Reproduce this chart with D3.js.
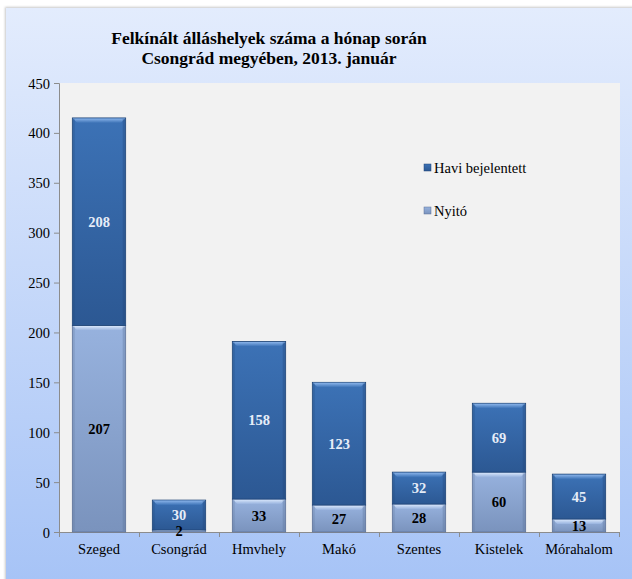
<!DOCTYPE html>
<html>
<head>
<meta charset="utf-8">
<script src="https://cdn.jsdelivr.net/npm/d3@7"></script>
<style>
  body { margin: 0; background: #fff; }
  svg { display: block; }
</style>
</head>
<body>
<div id="chart"></div>
<script>
var categories = ['Szeged', 'Csongrád', 'Hmvhely', 'Makó', 'Szentes', 'Kistelek', 'Mórahalom'];
var nyito = [207, 2, 33, 27, 28, 60, 13];
var havi = [208, 30, 158, 123, 32, 69, 45];
var seriesNames = ['Nyitó', 'Havi bejelentett'];
var yTicks = [0, 50, 100, 150, 200, 250, 300, 350, 400, 450];
var titleLines = ['Felkínált álláshelyek száma a hónap során', 'Csongrád megyében, 2013. január'];

var W = 632, H = 579;
var FONT = "'Liberation Serif', 'Times New Roman', serif";
var plot = {left: 59, right: 619, top: 83, bottom: 532};

var svg = d3.select('#chart').append('svg').attr('width', W).attr('height', H);
var defs = svg.append('defs');

// background gradient of the chart panel
var bg = defs.append('linearGradient').attr('id', 'bg').attr('x1', 0).attr('y1', 0).attr('x2', 0).attr('y2', 1);
bg.append('stop').attr('offset', '0%').attr('stop-color', '#e3ecfd');
bg.append('stop').attr('offset', '100%').attr('stop-color', '#a6c3f6');

var shadow = defs.append('filter').attr('id', 'shadow').attr('x', -0.1).attr('y', -0.1).attr('width', 1.2).attr('height', 1.2);
shadow.append('feGaussianBlur').attr('stdDeviation', 1.2);

// fill gradients per series
var colors = [
  {top: '#97b2de', bottom: '#7a93bd', hi: '#d8e6fb', edge: '#5d7298'},
  {top: '#3c72b6', bottom: '#2c5893', hi: '#8ab4ea', edge: '#214677'}
];
colors.forEach(function(c, i) {
  var g = defs.append('linearGradient').attr('id', 'fill' + i).attr('x1', 0).attr('y1', 0).attr('x2', 0).attr('y2', 1);
  g.append('stop').attr('offset', '0%').attr('stop-color', c.top);
  g.append('stop').attr('offset', '100%').attr('stop-color', c.bottom);
  var h = defs.append('linearGradient').attr('id', 'hi' + i).attr('x1', 0).attr('y1', 0).attr('x2', 0).attr('y2', 1);
  h.append('stop').attr('offset', '0%').attr('stop-color', c.hi);
  h.append('stop').attr('offset', '100%').attr('stop-color', c.top);
});

// panel
svg.append('rect').attr('x', 5).attr('y', 7).attr('width', W).attr('height', H)
  .attr('fill', '#c8c8c8').attr('filter', 'url(#shadow)');
svg.append('rect').attr('x', 6).attr('y', 8).attr('width', W).attr('height', H).attr('fill', 'url(#bg)');

// plot area
svg.append('rect').attr('x', plot.left).attr('y', plot.top)
  .attr('width', plot.right - plot.left + 1).attr('height', plot.bottom - plot.top)
  .attr('fill', '#f2f2f2');

var x = d3.scaleBand().domain(categories).range([plot.left, plot.right]).paddingInner(1 / 3).paddingOuter(1 / 6);
var y = d3.scaleLinear().domain([0, 450]).range([plot.bottom, plot.top]);

// title
svg.append('g').selectAll('text').data(titleLines).enter().append('text')
  .attr('x', 269).attr('y', function(d, i) { return 44 + i * 19.5; })
  .attr('text-anchor', 'middle').style('font-size', '17.5px').style('font-weight', 'bold')
  .attr('fill', '#000').text(function(d) { return d; });

// axes
var yAxis = svg.append('g').attr('transform', 'translate(' + plot.left + ',0)')
  .call(d3.axisLeft(y).tickValues(yTicks).tickSize(5).tickPadding(4));
var xAxis = svg.append('g').attr('transform', 'translate(0,' + plot.bottom + ')')
  .call(d3.axisBottom(d3.scaleLinear().domain([0, 7]).range([plot.left, plot.right]))
    .tickValues(d3.range(8)).tickSize(5).tickFormat(''));
[yAxis, xAxis].forEach(function(a) {
  a.select('.domain').attr('stroke', '#8c8c8c');
  a.selectAll('.tick line').attr('stroke', '#8c8c8c');
  a.selectAll('text').attr('fill', '#000').style('font-size', '14.5px');
});
yAxis.selectAll('text').attr('dy', '0.35em');

svg.append('g').selectAll('text').data(categories).enter().append('text')
  .attr('x', function(d) { return x(d) + x.bandwidth() / 2; })
  .attr('y', 554).attr('text-anchor', 'middle').style('font-size', '14.5px')
  .text(function(d) { return d; });

// stacked bars
var rows = categories.map(function(c, i) { return {cat: c, nyito: nyito[i], havi: havi[i]}; });
var stacked = d3.stack().keys(['nyito', 'havi'])(rows);

stacked.forEach(function(layer, si) {
  var c = colors[si];
  var g = svg.append('g');
  var bars = g.selectAll('g').data(layer).enter().append('g');
  var bw = x.bandwidth();
  bars.append('rect')
    .attr('x', function(d) { return x(d.data.cat); })
    .attr('y', function(d) { return y(d[1]); })
    .attr('width', bw)
    .attr('height', function(d) { return y(d[0]) - y(d[1]); })
    .attr('fill', 'url(#fill' + si + ')')
    .attr('stroke', c.edge).attr('stroke-width', 0.8);
  // bevel highlight on top
  bars.append('path')
    .attr('d', function(d) {
      var x0 = x(d.data.cat), y0 = y(d[1]);
      var h = Math.min(5, (y(d[0]) - y0) / 2);
      return 'M' + (x0 + 0.5) + ',' + (y0 + 0.5) + 'L' + (x0 + bw - 0.5) + ',' + (y0 + 0.5) +
        'L' + (x0 + bw - 5) + ',' + (y0 + h) + 'L' + (x0 + 5) + ',' + (y0 + h) + 'Z';
    })
    .attr('fill', 'url(#hi' + si + ')');
  // darker side edges
  bars.append('rect')
    .attr('x', function(d) { return x(d.data.cat) + bw - 3; })
    .attr('y', function(d) { return y(d[1]) + 1; })
    .attr('width', 2.5)
    .attr('height', function(d) { return Math.max(0, y(d[0]) - y(d[1]) - 2); })
    .attr('fill', c.edge).attr('opacity', 0.35);
  bars.append('rect')
    .attr('x', function(d) { return x(d.data.cat) + 0.5; })
    .attr('y', function(d) { return y(d[1]) + 1; })
    .attr('width', 2)
    .attr('height', function(d) { return Math.max(0, y(d[0]) - y(d[1]) - 2); })
    .attr('fill', c.edge).attr('opacity', 0.25);
});

// value labels
stacked.forEach(function(layer, si) {
  svg.append('g').selectAll('text').data(layer).enter().append('text')
    .attr('x', function(d) { return x(d.data.cat) + x.bandwidth() / 2; })
    .attr('y', function(d) { return (y(d[0]) + y(d[1])) / 2; })
    .attr('dy', '0.35em')
    .attr('text-anchor', 'middle').style('font-size', '14.5px').style('font-weight', 'bold')
    .attr('fill', si === 0 ? '#000' : '#e6edf8')
    .text(function(d) { return d[1] - d[0]; });
});

// legend
var legend = svg.append('g');
var legendItems = [{name: seriesNames[1], i: 1, y: 168}, {name: seriesNames[0], i: 0, y: 211}];
legendItems.forEach(function(it) {
  legend.append('rect').attr('x', 424).attr('y', it.y - 4).attr('width', 7).attr('height', 7)
    .attr('fill', 'url(#fill' + it.i + ')').attr('stroke', colors[it.i].edge).attr('stroke-width', 0.5);
  legend.append('text').attr('x', 434).attr('y', it.y).attr('dy', '0.35em')
    .style('font-size', '14.5px').text(it.name);
});

// every label in the serif face of the original
svg.selectAll('text').style('font-family', FONT);
</script>
</body>
</html>
